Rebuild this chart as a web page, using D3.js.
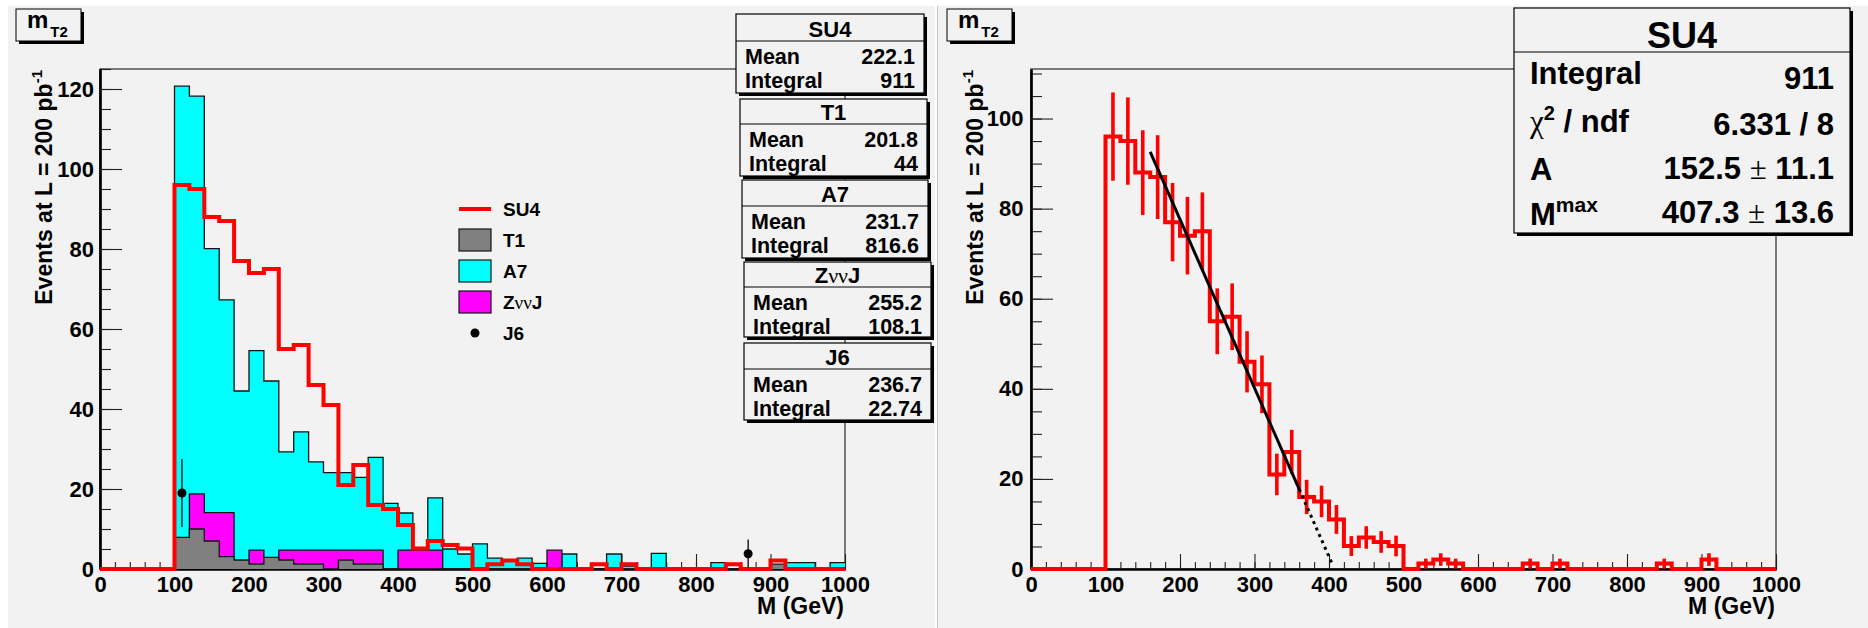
<!DOCTYPE html>
<html>
<head>
<meta charset="utf-8">
<script src="https://cdn.jsdelivr.net/npm/d3@7"></script>
<style>
  body { margin: 0; background: #fff; }
  svg { display: block; }
  text { font-family: "Liberation Sans", Arial, Helvetica, sans-serif; font-weight: bold; }
</style>
</head>
<body>
<div data-viz="wrapper"></div>
<script>
// **************************
// Data: 50 bins of 20 GeV between 0 and 1000 GeV
// **************************
const binWidth = 20
const massRange = [0, 1000]

const su4 = [
  0, 0, 0, 0, 0, 96, 95, 88, 87, 77,
  74, 75, 55, 56, 46, 41, 21, 26, 16, 15,
  11, 5.1, 7, 6, 5.1, 0, 1.2, 2.1, 1.2, 0,
  0, 0, 0, 1.2, 0, 1.2, 0, 0, 0, 0,
  0, 0, 1.2, 0, 0, 2.1, 0, 0, 0, 0
]
const su4Err = [
  0, 0, 0, 0, 0, 9.8, 9.7, 9.4, 9.3, 8.7,
  8.6, 8.6, 7.3, 7.4, 6.8, 6.4, 4.6, 4.9, 3.8, 3.5,
  3.2, 2.2, 2.5, 2.4, 2.3, 0, 1.1, 1.4, 1.1, 0,
  0, 0, 0, 1.1, 0, 1.1, 0, 0, 0, 0,
  0, 0, 1.1, 0, 0, 1.4, 0, 0, 0, 0
]
const a7 = [
  0, 0, 0, 0, 0, 120.7, 118.2, 80.1, 67.3, 44.5,
  54.6, 47.0, 29.3, 34.3, 26.8, 24.1, 24.1, 22.9, 27.9, 16.4,
  14.0, 0, 17.8, 5.0, 3.75, 6.3, 2.7, 2.0, 2.7, 1.4,
  0, 3.75, 0, 0, 3.75, 0.7, 0, 3.9, 0, 0,
  0, 1.6, 0, 0, 0, 0, 1.6, 1.6, 0, 1.6
]
const zvvj = [
  0, 0, 0, 0, 0, 4.7, 18.8, 14.1, 14.1, 0,
  4.7, 0, 4.7, 4.7, 4.7, 4.7, 4.7, 4.7, 4.7, 0,
  4.7, 4.7, 4.7, 0, 0, 0, 0, 0, 0, 0,
  4.7, 0, 0, 0, 0, 0, 0, 0, 0, 0,
  0, 0, 0, 0, 0, 0, 0, 0, 0, 0
]
const t1 = [
  0, 0, 0, 0, 0, 7.9, 10.0, 7.0, 3.1, 2.25,
  1.25, 2.9, 2.25, 1.25, 1.25, 0, 2.25, 1.25, 1.25, 0,
  0, 0, 0, 0, 0, 0, 0, 0, 0, 0,
  0, 0, 0, 0, 0, 0, 0, 0, 0, 0,
  0, 0, 0, 0, 0, 1.2, 0, 0, 0, 0
]

// J6 only has two filled bins
const j6Mass = [110, 870]
const j6Events = [19.0, 3.8]
const j6Err = [8.5, 3.6]

// Stats boxes (left pad)
const statNames = ["SU4", "T1", "A7", "ZννJ", "J6"]
const statMeans = [222.1, 201.8, 231.7, 255.2, 236.7]
const statIntegrals = [911, 44, 816.6, 108.1, 22.74]

// Legend
const legendNames = ["SU4", "T1", "A7", "ZννJ", "J6"]
const legendKinds = ["line", "box", "box", "box", "marker"]

// Fit of the SU4 end point (right pad)
const fitA = 152.5
const fitAErr = 11.1
const fitMmax = 407.3
const fitMmaxErr = 13.6
const fitChi2 = 6.331
const fitNdf = 8
const fitRange = [160, 360]
const fitExtension = [360, 404]

const xTickMajor = d3.range(0, 1001, 100)
const xTickMinor = d3.range(0, 1001, 20)

// **************************
// Styles and layout
// **************************
const colors = {
  SU4: "#ff0000", T1: "#808080", A7: "#00ffff", "ZννJ": "#ff00ff", J6: "#000000"
}
const padFill = "#f2f2f2"
const W = 1868, H = 628

const svg = d3.select("[data-viz='wrapper']").append("svg")
    .attr("width", W)
    .attr("height", H)

svg.append("rect").attr("width", W).attr("height", H).attr("fill", "#fff")
svg.append("rect").attr("x", 8).attr("y", 6).attr("width", 927).attr("height", H - 6).attr("fill", padFill)
svg.append("rect").attr("x", 938).attr("y", 6).attr("width", W - 938).attr("height", H - 6).attr("fill", padFill)
svg.append("line").attr("x1", 937.5).attr("x2", 937.5).attr("y1", 6).attr("y2", H)
    .attr("stroke", "#c4c4c4").attr("stroke-width", 1)

const edges = d3.range(massRange[0], massRange[1] + binWidth / 2, binWidth)
const centers = edges.slice(0, -1).map(e => e + binWidth / 2)

function stepPoints(values) {
  const pts = []
  values.forEach((v, i) => {
    pts.push([edges[i], v])
    pts.push([edges[i + 1], v])
  })
  return pts
}

// Append text that may contain greek letters / plus-minus drawn in a serif, non bold face
function appendRich(textSel, str) {
  str.split(/([νχ±])/).filter(s => s.length).forEach(part => {
    const t = textSel.append("tspan").text(part)
    if (/[νχ±]/.test(part)) {
      t.attr("font-family", "'Liberation Serif', 'DejaVu Serif', serif").attr("font-weight", "normal")
    }
  })
}

// **************************
// Frame, axes, titles
// **************************
function drawAxes(x, y, yMax, yLabelGap, yTitleX, xTitleY) {
  const [x0, x1] = x.range()
  const [yb, yt] = y.range()
  const g = svg.append("g")

  g.append("rect")
      .attr("x", x0).attr("y", yt)
      .attr("width", x1 - x0).attr("height", yb - yt)
      .attr("fill", "none").attr("stroke", "#3a3a3a").attr("stroke-width", 1.3)

  const styleAxis = sel => {
    sel.attr("font-family", null).attr("font-size", 22).attr("color", "#000")
    sel.select(".domain").attr("stroke-width", 2.2)
    sel.selectAll(".tick line").attr("stroke", "#222").attr("stroke-width", 1.1)
  }
  const dropLabels = sel => sel.selectAll(".tick text").remove()

  g.append("g")
      .attr("transform", `translate(0,${yb})`)
      .call(d3.axisBottom(x).tickValues(xTickMinor).tickSize(-7).tickSizeOuter(0))
      .call(styleAxis)
      .call(dropLabels)
  g.append("g")
      .attr("transform", `translate(0,${yb})`)
      .call(d3.axisBottom(x).tickValues(xTickMajor).tickSize(-15).tickSizeOuter(0)
        .tickPadding(7).tickFormat(d3.format("d")))
      .call(styleAxis)

  g.append("g")
      .attr("transform", `translate(${x0},0)`)
      .call(d3.axisLeft(y).tickValues(d3.range(0, yMax + 0.01, 5)).tickSize(-11).tickSizeOuter(0))
      .call(styleAxis)
      .call(dropLabels)
  g.append("g")
      .attr("transform", `translate(${x0},0)`)
      .call(d3.axisLeft(y).tickValues(d3.range(0, yMax + 0.01, 20)).tickSize(-22).tickSizeOuter(0)
        .tickPadding(yLabelGap).tickFormat(d3.format("d")))
      .call(styleAxis)

  const yTitle = g.append("text")
      .attr("transform", `translate(${yTitleX},${yt + 1}) rotate(-90)`)
      .attr("text-anchor", "end")
      .attr("font-size", 23)
  yTitle.append("tspan").text("Events at L = 200 pb")
  yTitle.append("tspan").attr("font-size", 15).attr("dy", -10).text("-1")

  g.append("text")
      .attr("x", x1 - 1).attr("y", xTitleY)
      .attr("text-anchor", "end")
      .attr("font-size", 23)
      .text("M (GeV)")
}

function drawTitleBox(x0, y0) {
  const w = 65, h = 32
  svg.append("rect").attr("x", x0 + 3).attr("y", y0 + 3).attr("width", w).attr("height", h).attr("fill", "#000")
  svg.append("rect").attr("x", x0).attr("y", y0).attr("width", w).attr("height", h)
      .attr("fill", padFill).attr("stroke", "#000").attr("stroke-width", 1)
  const t = svg.append("text").attr("x", x0 + 11).attr("y", y0 + 19).attr("font-size", 24)
  t.append("tspan").text("m")
  t.append("tspan").attr("font-size", 15).attr("dx", 2).attr("dy", 9).text("T2")
}

// **************************
// Left pad: overlaid backgrounds and SU4 signal
// **************************
const xL = d3.scaleLinear().domain(massRange).range([100, 845])
const yL = d3.scaleLinear().domain([0, 125]).range([569, 69])

drawAxes(xL, yL, 125, 6, 52, 614)

const areaL = d3.area().x(d => xL(d[0])).y0(yL(0)).y1(d => yL(d[1]))
const lineL = d3.line().x(d => xL(d[0])).y(d => yL(d[1]))

;[["A7", a7], ["ZννJ", zvvj], ["T1", t1]].forEach(([name, values]) => {
  const pts = stepPoints(values)
  svg.append("path").attr("d", areaL(pts)).attr("fill", colors[name])
  svg.append("path").attr("d", lineL(pts))
      .attr("fill", "none").attr("stroke", "#141414").attr("stroke-width", 1.3)
})

svg.append("path")
    .attr("d", lineL(stepPoints(su4)))
    .attr("fill", "none")
    .attr("stroke", colors.SU4)
    .attr("stroke-width", 4)

const j6 = svg.append("g")
j6Mass.forEach((m, i) => {
  j6.append("line")
      .attr("x1", xL(m)).attr("x2", xL(m))
      .attr("y1", yL(Math.max(0, j6Events[i] - j6Err[i]))).attr("y2", yL(j6Events[i] + j6Err[i]))
      .attr("stroke", "#000").attr("stroke-width", 1.3)
  j6.append("circle")
      .attr("cx", xL(m)).attr("cy", yL(j6Events[i])).attr("r", 4.5)
      .attr("fill", colors.J6)
})

// Legend
const legend = svg.append("g")
legendNames.forEach((name, i) => {
  const cy = 209 + i * 31
  const kind = legendKinds[i]
  if (kind === "line") {
    legend.append("line").attr("x1", 459).attr("x2", 491).attr("y1", cy).attr("y2", cy)
        .attr("stroke", colors[name]).attr("stroke-width", 4)
  } else if (kind === "box") {
    legend.append("rect").attr("x", 459).attr("y", cy - 11).attr("width", 32).attr("height", 22)
        .attr("fill", colors[name]).attr("stroke", "#141414").attr("stroke-width", 1.2)
  } else {
    legend.append("circle").attr("cx", 475).attr("cy", cy).attr("r", 4.5).attr("fill", colors[name])
  }
  const t = legend.append("text").attr("x", 503).attr("y", cy + 7).attr("font-size", 19)
  appendRich(t, name)
})

// Stats boxes
const statBoxes = [
  { x0: 736, x1: 924, y0: 14, y1: 93, hdr: 41 },
  { x0: 740, x1: 927, y0: 99, y1: 176, hdr: 124 },
  { x0: 742, x1: 928, y0: 180, y1: 258, hdr: 206 },
  { x0: 744, x1: 931, y0: 262, y1: 337, hdr: 287 },
  { x0: 744, x1: 931, y0: 343, y1: 420, hdr: 369 }
]

function statBox(b) {
  const g = svg.append("g")
  g.append("rect").attr("x", b.x0 + 3).attr("y", b.y0 + 3)
      .attr("width", b.x1 - b.x0).attr("height", b.y1 - b.y0).attr("fill", "#000")
  g.append("rect").attr("x", b.x0).attr("y", b.y0)
      .attr("width", b.x1 - b.x0).attr("height", b.y1 - b.y0)
      .attr("fill", padFill).attr("stroke", "#000").attr("stroke-width", 1.2)
  g.append("line").attr("x1", b.x0).attr("x2", b.x1).attr("y1", b.hdr).attr("y2", b.hdr)
      .attr("stroke", "#000").attr("stroke-width", 1.2)
  return g
}

statNames.forEach((name, i) => {
  const b = statBoxes[i]
  const g = statBox(b)
  const h = g.append("text").attr("x", (b.x0 + b.x1) / 2).attr("y", b.hdr - 4)
      .attr("text-anchor", "middle").attr("font-size", 22)
  appendRich(h, name)
  const rows = [["Mean", statMeans[i]], ["Integral", statIntegrals[i]]]
  rows.forEach(([label, value], r) => {
    const by = b.hdr + 23 + r * 24
    g.append("text").attr("x", b.x0 + 9).attr("y", by).attr("font-size", 21.5).text(label)
    g.append("text").attr("x", b.x1 - 9).attr("y", by).attr("font-size", 21.5)
        .attr("text-anchor", "end").text(String(value))
  })
})

drawTitleBox(16, 9)

// **************************
// Right pad: SU4 with errors and end point fit
// **************************
const xR = d3.scaleLinear().domain(massRange).range([1031, 1776])
const yR = d3.scaleLinear().domain([0, 111]).range([569, 69])

drawAxes(xR, yR, 111, 7.5, 983, 614)

const lineR = d3.line().x(d => xR(d[0])).y(d => yR(d[1]))

svg.append("path")
    .attr("d", lineR(stepPoints(su4)))
    .attr("fill", "none")
    .attr("stroke", colors.SU4)
    .attr("stroke-width", 4)

svg.append("g").selectAll("line")
  .data(su4.map((v, i) => ({ m: centers[i], v, e: su4Err[i] })).filter(d => d.e > 0))
  .join("line")
    .attr("x1", d => xR(d.m)).attr("x2", d => xR(d.m))
    .attr("y1", d => yR(d.v - d.e)).attr("y2", d => yR(d.v + d.e))
    .attr("stroke", colors.SU4)
    .attr("stroke-width", 3.6)

const fitFn = m => fitA * (1 - m / fitMmax)
svg.append("path")
    .attr("d", lineR(fitRange.map(m => [m, fitFn(m)])))
    .attr("fill", "none").attr("stroke", "#000").attr("stroke-width", 3)
svg.append("path")
    .attr("d", lineR(fitExtension.map(m => [m, fitFn(m)])))
    .attr("fill", "none").attr("stroke", "#000").attr("stroke-width", 3)
    .attr("stroke-dasharray", "3,4")

// Fit stats box
const fitBox = { x0: 1514, x1: 1850, y0: 8, y1: 233, hdr: 52 }
const gf = statBox(fitBox)
gf.append("text").attr("x", (fitBox.x0 + fitBox.x1) / 2).attr("y", 48)
    .attr("text-anchor", "middle").attr("font-size", 36).text("SU4")

const labelBaselines = [84, 132, 180, 225]
const valueBaselines = [89, 135, 179, 223]

const fitLabels = [
  t => t.append("tspan").text("Integral"),
  t => {
    appendRich(t, "χ")
    t.append("tspan").attr("font-size", 20).attr("dy", -12).text("2")
    t.append("tspan").attr("dy", 12).text(" / ndf")
  },
  t => t.append("tspan").text("A"),
  t => {
    t.append("tspan").text("M")
    t.append("tspan").attr("font-size", 21).attr("dy", -13).text("max")
  }
]
const fitValues = [
  String(statIntegrals[0]),
  `${fitChi2} / ${fitNdf}`,
  `${fitA} ± ${fitAErr}`,
  `${fitMmax} ± ${fitMmaxErr}`
]

fitLabels.forEach((fn, i) => {
  fn(gf.append("text").attr("x", 1530).attr("y", labelBaselines[i]).attr("font-size", 31))
  const v = gf.append("text").attr("x", 1834).attr("y", valueBaselines[i])
      .attr("font-size", 31).attr("text-anchor", "end")
  appendRich(v, fitValues[i])
})

drawTitleBox(947, 9)
</script>
</body>
</html>
